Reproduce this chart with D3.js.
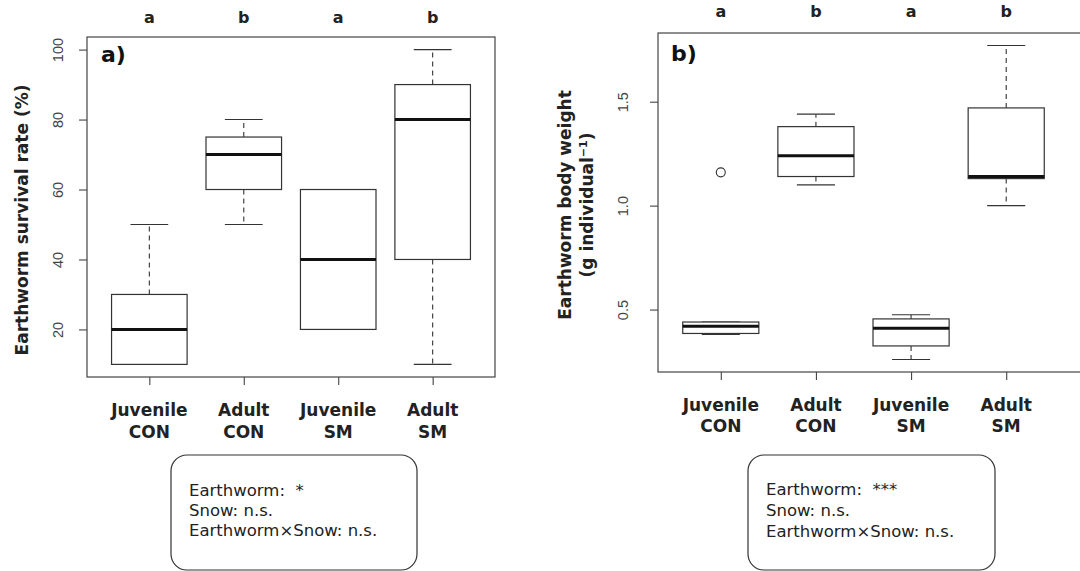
<!DOCTYPE html>
<html><head><meta charset="utf-8">
<script src="https://cdn.jsdelivr.net/npm/d3@7"></script>
<style>body{margin:0;background:#fff} svg{display:block}</style>
</head><body>
<svg id="chart" width="1080" height="571"></svg>
<script>
// ---------- data ----------
const categories = ["Juvenile CON", "Adult CON", "Juvenile SM", "Adult SM"];
const catLine1 = ["Juvenile", "Adult", "Juvenile", "Adult"];
const catLine2 = ["CON", "CON", "SM", "SM"];
const groupLetters = ["a", "b", "a", "b"];

// panel a: earthworm survival rate (%)
const survivalLow  = [10, 50, 20, 10];
const survivalQ1   = [10, 60, 20, 40];
const survivalMed  = [20, 70, 40, 80];
const survivalQ3   = [30, 75, 60, 90];
const survivalHigh = [50, 80, 60, 100];
const survivalTicks = [20, 40, 60, 80, 100];

// panel b: earthworm body weight (g individual-1)
const weightLow  = [0.38, 1.10, 0.26, 1.00];
const weightQ1   = [0.385, 1.14, 0.325, 1.13];
const weightMed  = [0.42, 1.24, 0.41, 1.14];
const weightQ3   = [0.44, 1.38, 0.455, 1.47];
const weightHigh = [0.44, 1.44, 0.475, 1.77];
const weightOutlierGroup = [0];
const weightOutlierValue = [1.16];
const weightTicks = [0.5, 1.0, 1.5];

const statsA = ["Earthworm:  *", "Snow: n.s.", "Earthworm\u00d7Snow: n.s."];
const statsB = ["Earthworm:  ***", "Snow: n.s.", "Earthworm\u00d7Snow: n.s."];

// ---------- drawing ----------
const svg = d3.select("#chart");
const BOLD = "'DejaVu Sans', Verdana, sans-serif";
const NUM = "'Liberation Sans', Arial, sans-serif";

function rangeExt(lo, hi) { const r = hi - lo; return [lo - 0.04 * r, hi + 0.04 * r]; }

function panel(cfg) {
  const g = svg.append("g");
  const n = categories.length;
  const x = d3.scaleLinear().domain(rangeExt(0.5, n + 0.5)).range([cfg.left, cfg.right]);
  const allVals = cfg.low.concat(cfg.high, cfg.outVal || []);
  const y = d3.scaleLinear().domain(rangeExt(d3.min(allVals), d3.max(allVals))).range([cfg.bottom, cfg.top]);
  const idx = d3.range(n);
  const bw = 0.4, cw = 0.2;

  // whiskers (dashed)
  g.selectAll(".wu").data(idx).join("line")
    .attr("x1", i => x(i + 1)).attr("x2", i => x(i + 1))
    .attr("y1", i => y(cfg.q3[i])).attr("y2", i => y(cfg.high[i]))
    .attr("stroke", "#333").attr("stroke-width", 1.1).attr("stroke-dasharray", "5,4");
  g.selectAll(".wl").data(idx).join("line")
    .attr("x1", i => x(i + 1)).attr("x2", i => x(i + 1))
    .attr("y1", i => y(cfg.q1[i])).attr("y2", i => y(cfg.low[i]))
    .attr("stroke", "#333").attr("stroke-width", 1.1).attr("stroke-dasharray", "5,4");
  // caps
  [cfg.high, cfg.low].forEach(arr => {
    g.selectAll(null).data(idx).join("line")
      .attr("x1", i => x(i + 1 - cw)).attr("x2", i => x(i + 1 + cw))
      .attr("y1", i => y(arr[i])).attr("y2", i => y(arr[i]))
      .attr("stroke", "#333").attr("stroke-width", 1.1);
  });
  // boxes
  g.selectAll(".box").data(idx).join("rect")
    .attr("x", i => x(i + 1 - bw)).attr("width", i => x(i + 1 + bw) - x(i + 1 - bw))
    .attr("y", i => y(cfg.q3[i])).attr("height", i => y(cfg.q1[i]) - y(cfg.q3[i]))
    .attr("fill", "#fff").attr("stroke", "#333").attr("stroke-width", 1.2);
  // medians
  g.selectAll(".med").data(idx).join("line")
    .attr("x1", i => x(i + 1 - bw)).attr("x2", i => x(i + 1 + bw))
    .attr("y1", i => y(cfg.med[i])).attr("y2", i => y(cfg.med[i]))
    .attr("stroke", "#111").attr("stroke-width", 3);
  // outliers
  if (cfg.outVal) {
    g.selectAll(".out").data(cfg.outVal).join("circle")
      .attr("cx", (d, k) => x(cfg.outGrp[k] + 1)).attr("cy", d => y(d)).attr("r", 4.5)
      .attr("fill", "none").attr("stroke", "#333").attr("stroke-width", 1.1);
  }

  // frame
  g.append("rect").attr("x", cfg.left).attr("y", cfg.top)
    .attr("width", (cfg.frameRight || cfg.right) - cfg.left).attr("height", cfg.bottom - cfg.top)
    .attr("fill", "none").attr("stroke", "#444").attr("stroke-width", 1.2);

  // y axis
  const ya = g.append("g").attr("transform", `translate(${cfg.left},0)`)
    .call(d3.axisLeft(y).tickValues(cfg.ticks).tickSize(8).tickFormat(cfg.fmt));
  ya.select(".domain").remove();
  ya.selectAll(".tick line").attr("stroke", "#444").attr("stroke-width", 1.1);
  ya.selectAll(".tick text")
    .attr("transform", "rotate(-90)").attr("x", 0).attr("y", -cfg.labOff).attr("dy", null)
    .attr("text-anchor", "middle").attr("font-family", NUM).attr("font-size", 14.5).attr("fill", "#444");

  // x axis
  const xa = g.append("g").attr("transform", `translate(0,${cfg.bottom})`)
    .call(d3.axisBottom(x).tickValues(idx.map(i => i + 1)).tickSize(8).tickFormat(""));
  xa.select(".domain").remove();
  xa.selectAll(".tick line").attr("stroke", "#444").attr("stroke-width", 1.1);

  g.selectAll(".xl1").data(idx).join("text")
    .attr("x", i => x(i + 1)).attr("y", cfg.xl1).attr("text-anchor", "middle")
    .attr("font-family", BOLD).attr("font-weight", "bold").attr("font-size", 17).attr("fill", "#222")
    .text(i => catLine1[i]);
  g.selectAll(".xl2").data(idx).join("text")
    .attr("x", i => x(i + 1)).attr("y", cfg.xl2).attr("text-anchor", "middle")
    .attr("font-family", BOLD).attr("font-weight", "bold").attr("font-size", 17).attr("fill", "#222")
    .text(i => catLine2[i]);

  // significance letters
  g.selectAll(".let").data(idx).join("text")
    .attr("x", i => x(i + 1)).attr("y", cfg.letY).attr("text-anchor", "middle")
    .attr("font-family", BOLD).attr("font-weight", "bold").attr("font-size", 16).attr("fill", "#222")
    .text(i => groupLetters[i]);

  // panel label
  g.append("text").attr("x", cfg.tagX).attr("y", cfg.tagY)
    .attr("font-family", BOLD).attr("font-weight", "bold").attr("font-size", 22).attr("fill", "#111")
    .text(cfg.tag);

  // y title
  cfg.title.forEach((t, k) => {
    const tx = g.append("text")
      .attr("transform", `translate(${cfg.titleX[k]},${cfg.titleY}) rotate(-90)`)
      .attr("text-anchor", "middle").attr("font-family", BOLD).attr("font-weight", "bold")
      .attr("font-size", 17).attr("fill", "#222");
    tx.append("tspan").text(t[0]);
    if (t[1]) {
      tx.append("tspan").attr("font-size", 11).attr("dy", -6).text(t[1]);
      tx.append("tspan").attr("dy", 6).text(t[2]);
    }
  });

  // stats box
  const sb = cfg.stats;
  g.append("rect").attr("x", sb.x).attr("y", sb.y).attr("width", sb.w).attr("height", sb.h)
    .attr("rx", 16).attr("ry", 16).attr("fill", "#fff").attr("stroke", "#333").attr("stroke-width", 1.2);
  g.selectAll(".st").data(sb.lines).join("text")
    .attr("x", sb.tx).attr("y", (d, k) => sb.ty[k])
    .attr("font-family", BOLD).attr("font-size", 16.5).attr("fill", "#222")
    .attr("xml:space", "preserve").style("white-space", "pre")
    .text(d => d);
}

panel({
  left: 87, right: 495, top: 37, bottom: 377,
  low: survivalLow, q1: survivalQ1, med: survivalMed, q3: survivalQ3, high: survivalHigh,
  ticks: survivalTicks, fmt: d3.format("d"), labOff: 24,
  xl1: 416, xl2: 438, letY: 23, tag: "a)", tagX: 101, tagY: 62,
  title: [["Earthworm survival rate (%)"]], titleX: [28], titleY: 220,
  stats: { x: 171, y: 455, w: 246, h: 115, tx: 189, ty: [496, 516, 536], lines: statsA }
});

panel({
  left: 658, right: 1069, frameRight: 1095, top: 33, bottom: 372,
  low: weightLow, q1: weightQ1, med: weightMed, q3: weightQ3, high: weightHigh,
  outGrp: weightOutlierGroup, outVal: weightOutlierValue,
  ticks: weightTicks, fmt: d3.format(".1f"), labOff: 30,
  xl1: 411, xl2: 432, letY: 17, tag: "b)", tagX: 671, tagY: 61,
  title: [["Earthworm body weight"], ["(g individual", "\u22121", ")"]], titleX: [571, 593], titleY: 205,
  stats: { x: 748, y: 455, w: 247, h: 115, tx: 766, ty: [495, 516, 537], lines: statsB }
});
</script>
</body></html>
